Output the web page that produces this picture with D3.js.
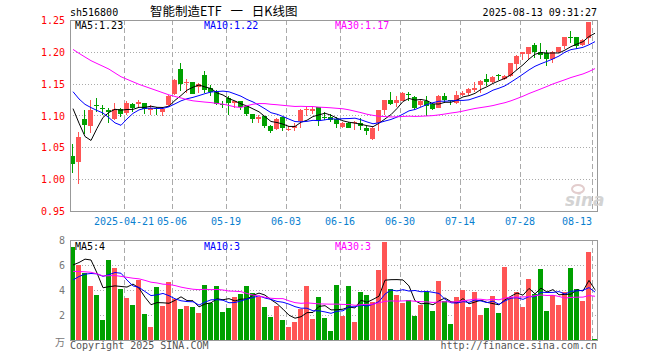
<!DOCTYPE html>
<html><head><meta charset="utf-8">
<script src="https://cdn.jsdelivr.net/npm/d3@7"></script>
<style>body{margin:0;background:#fff}svg{display:block}</style>
</head><body>
<svg id="c" width="660" height="360"></svg>
<script>
const dates = ["2025-04-08","2025-04-09","2025-04-10","2025-04-11","2025-04-14","2025-04-15","2025-04-16","2025-04-17","2025-04-18","2025-04-21","2025-04-22","2025-04-23","2025-04-24","2025-04-25","2025-04-28","2025-04-29","2025-04-30",
"2025-05-06","2025-05-07","2025-05-08","2025-05-09","2025-05-12","2025-05-13","2025-05-14","2025-05-15","2025-05-16","2025-05-19","2025-05-20","2025-05-21","2025-05-22","2025-05-23","2025-05-26","2025-05-27","2025-05-28","2025-05-29","2025-05-30",
"2025-06-03","2025-06-04","2025-06-05","2025-06-06","2025-06-09","2025-06-10","2025-06-11","2025-06-12","2025-06-13","2025-06-16","2025-06-17","2025-06-18","2025-06-19","2025-06-20","2025-06-23","2025-06-24","2025-06-25","2025-06-26","2025-06-27","2025-06-30",
"2025-07-01","2025-07-02","2025-07-03","2025-07-04","2025-07-07","2025-07-08","2025-07-09","2025-07-10","2025-07-11","2025-07-14","2025-07-15","2025-07-16","2025-07-17","2025-07-18","2025-07-21","2025-07-22","2025-07-23","2025-07-24","2025-07-25","2025-07-28","2025-07-29","2025-07-30","2025-07-31",
"2025-08-01","2025-08-04","2025-08-05","2025-08-06","2025-08-07","2025-08-08","2025-08-11","2025-08-12","2025-08-13"];
const open  = [1.036,1.027,1.095,1.084,1.117,1.111,1.109,1.094,1.110,1.104,1.118,1.118,1.120,1.109,1.112,1.106,1.117,1.134,1.173,1.151,1.152,1.144,1.164,1.143,1.139,1.118,1.127,1.120,1.123,1.115,1.102,1.095,1.099,1.084,1.079,1.097,1.077,1.081,1.091,1.108,1.107,1.113,1.098,1.098,1.094,1.082,1.089,1.088,1.089,1.081,1.063,1.088,1.109,1.124,1.119,1.123,1.133,1.129,1.117,1.123,1.118,1.111,1.131,1.124,1.120,1.132,1.135,1.140,1.148,1.158,1.152,1.163,1.158,1.162,1.181,1.197,1.197,1.210,1.200,1.198,1.188,1.200,1.209,1.223,1.223,1.211,1.221,1.250];
const high  = [1.055,1.074,1.108,1.124,1.128,1.117,1.112,1.119,1.111,1.122,1.120,1.124,1.120,1.117,1.114,1.114,1.132,1.157,1.183,1.157,1.153,1.151,1.170,1.148,1.140,1.122,1.130,1.123,1.123,1.115,1.102,1.101,1.099,1.085,1.096,1.097,1.084,1.089,1.110,1.114,1.114,1.114,1.106,1.102,1.097,1.090,1.090,1.092,1.096,1.084,1.082,1.109,1.124,1.137,1.131,1.137,1.137,1.130,1.124,1.131,1.120,1.132,1.136,1.125,1.139,1.139,1.143,1.153,1.155,1.165,1.162,1.165,1.164,1.183,1.195,1.200,1.208,1.214,1.214,1.203,1.201,1.208,1.224,1.232,1.223,1.220,1.247,1.250];
const low   = [1.009,0.993,1.071,1.073,1.106,1.101,1.089,1.093,1.097,1.101,1.106,1.111,1.102,1.101,1.101,1.099,1.115,1.132,1.139,1.136,1.133,1.136,1.135,1.130,1.117,1.111,1.101,1.111,1.108,1.099,1.089,1.089,1.080,1.072,1.077,1.075,1.075,1.076,1.081,1.099,1.103,1.084,1.093,1.090,1.080,1.080,1.080,1.078,1.077,1.069,1.062,1.075,1.101,1.117,1.114,1.122,1.123,1.108,1.114,1.099,1.108,1.111,1.119,1.117,1.118,1.130,1.132,1.137,1.136,1.146,1.151,1.156,1.156,1.161,1.171,1.187,1.188,1.190,1.188,1.178,1.182,1.198,1.204,1.214,1.204,1.209,1.213,1.248];
const close = [1.024,1.066,1.085,1.109,1.115,1.110,1.105,1.110,1.102,1.120,1.111,1.121,1.110,1.111,1.111,1.110,1.131,1.156,1.149,1.153,1.133,1.149,1.140,1.137,1.118,1.117,1.120,1.122,1.114,1.102,1.094,1.097,1.084,1.076,1.094,1.081,1.079,1.084,1.109,1.110,1.110,1.092,1.097,1.093,1.087,1.089,1.081,1.090,1.084,1.076,1.081,1.108,1.124,1.118,1.124,1.136,1.132,1.111,1.123,1.115,1.110,1.131,1.125,1.123,1.132,1.135,1.141,1.143,1.154,1.153,1.161,1.162,1.162,1.182,1.193,1.199,1.207,1.200,1.195,1.189,1.200,1.207,1.223,1.222,1.209,1.219,1.247,1.249];
const volume = [7.47,6.0,5.39,4.32,3.6,1.6,6.4,5.73,4.08,3.36,2.8,4.8,2.08,1.07,4.21,2.72,4.61,3.25,2.48,2.72,2.64,2.16,4.4,2.96,4.32,2.27,2.59,3.47,3.71,4.32,3.79,3.47,2.67,1.87,2.72,1.6,1.07,1.47,2.45,4.35,1.68,3.47,1.79,0.75,4.4,1.92,4.32,1.44,3.84,3.57,3.07,5.6,7.84,4.05,3.6,2.93,3.2,1.92,2.8,3.87,2.32,4.72,3.12,1.28,3.44,4.0,2.64,3.84,2.0,2.56,3.52,2.16,5.84,3.44,3.84,2.64,4.88,3.68,5.68,2.32,3.6,2.8,3.84,5.76,4.08,3.12,7.04,0.08];
// closes and volumes of the 29 sessions before the first visible one
const priorCloses = [1.25,1.26,1.28,1.25,1.24,1.24,1.29,1.28,1.24,1.23,1.24,1.21,1.21,1.21,1.21,1.23,1.23,1.22,1.23,1.19,1.18,1.17,1.16,1.16,1.15,1.18,1.19,1.14,1.02];
const priorVolumes = [6.5,6.0,5.5,7.2,6.8,5.9,5.2,6.1,5.6,5.0,6.3,5.8,5.4,6.0,5.7,5.3,5.9,6.2,5.5,4.9,3.2,3.5,3.8,3.9,3.6,5.0,4.04,4.67,8.82];
const priceTicks = [0.95,1.00,1.05,1.10,1.15,1.20,1.25];
const volTicks = [2,4,6,8];
const tickDates = ["2025-04-21","2025-05-06","2025-05-19","2025-06-03","2025-06-16","2025-06-30","2025-07-14","2025-07-28","2025-08-13"];
const tickLabels = ["2025-04-21","05-06","05-19","06-03","06-16","06-30","07-14","07-28","08-13"];
const maPeriods = [5,10,30];
const maColors = ["#000000","#0000ff","#ff00ff"];
const symbol = "sh516800";
const title = "智能制造ETF 一 日K线图";
const stamp = "2025-08-13 09:31:27";

const UP = "#ff5555", DOWN = "#00a000";
const L = 70, R = 598, PT = 20, PB = 211, VT = 240, VB = 340;
const svg = d3.select("#c");
const mono = "'DejaVu Sans Mono', monospace";

const x = d3.scaleBand().domain(d3.range(dates.length)).range([L, R]).padding(0);
const y = d3.scaleLinear().domain([0.95, 1.25]).range([PB, PT]);
const yv = d3.scaleLinear().domain([0, 8]).range([VB, VT]);
const cx = i => x(i) + 2.5;

function ma(series, prior, n) {
  const full = prior.concat(series), p = prior.length;
  return series.map((_, i) => d3.mean(full.slice(p + i - n + 1, p + i + 1)));
}
const priceMA = maPeriods.map(n => ma(close, priorCloses, n));
const volMA = maPeriods.map(n => ma(volume, priorVolumes, n));

const g = svg.append("g").attr("shape-rendering", "crispEdges");
// horizontal grids
g.selectAll(".hp").data(priceTicks.slice(1, -1)).join("line")
  .attr("x1", L).attr("x2", R - 1).attr("y1", d => Math.round(y(d)) + 0.5).attr("y2", d => Math.round(y(d)) + 0.5)
  .attr("stroke", "#aaaaaa").attr("stroke-dasharray", "1,2");
g.selectAll(".hv").data(volTicks.slice(0, -1)).join("line")
  .attr("x1", L).attr("x2", R - 1).attr("y1", d => Math.round(yv(d)) + 0.5).attr("y2", d => Math.round(yv(d)) + 0.5)
  .attr("stroke", "#aaaaaa").attr("stroke-dasharray", "1,2");
// vertical grids
const tickIdx = tickDates.map(d => dates.indexOf(d));
[[PT, PB], [VT, VB]].forEach(([a, b]) => {
  g.append("g").selectAll("line").data(tickIdx).join("line")
    .attr("x1", i => x(i) + 0.5).attr("x2", i => x(i) + 0.5).attr("y1", a).attr("y2", b)
    .attr("stroke", "#aaaaaa").attr("stroke-dasharray", "5,3");
});

// candles
const cg = g.append("g");
dates.forEach((d, i) => {
  const col = close[i] >= open[i] ? UP : DOWN;
  cg.append("line").attr("x1", cx(i)).attr("x2", cx(i)).attr("y1", y(high[i])).attr("y2", y(low[i])).attr("stroke", col);
  const top = y(Math.max(open[i], close[i])), bot = y(Math.min(open[i], close[i]));
  cg.append("rect").attr("x", x(i)).attr("width", 5).attr("y", top).attr("height", Math.max(1, bot - top)).attr("fill", col);
  cg.append("rect").attr("x", x(i)).attr("width", 5).attr("y", yv(volume[i])).attr("height", VB - yv(volume[i])).attr("fill", col);
});

// MA lines
const lp = d3.line().x((d, i) => cx(i) + 0.5);
maPeriods.forEach((n, k) => {
  svg.append("path").datum(priceMA[k]).attr("d", lp.y(d => y(d))).attr("fill", "none").attr("stroke", maColors[k]).attr("stroke-width", 1);
  svg.append("path").datum(volMA[k]).attr("d", lp.y(d => yv(d))).attr("fill", "none").attr("stroke", maColors[k]).attr("stroke-width", 1);
});

// frames
g.append("rect").attr("x", L + 0.5).attr("y", PT + 0.5).attr("width", R - L - 1).attr("height", PB - PT).attr("fill", "none").attr("stroke", "#999");
g.append("rect").attr("x", L + 0.5).attr("y", VT + 0.5).attr("width", R - L - 1).attr("height", VB - VT).attr("fill", "none").attr("stroke", "#999");

// watermark
const wm = svg.append("g").attr("opacity", 0.9);
wm.append("text").attr("x", 565).attr("y", 206).text("sina").attr("font-family", "'DejaVu Sans', sans-serif")
  .attr("font-size", 17).attr("font-weight", "bold").attr("font-style", "italic").attr("fill", "#cfcfcf");
wm.append("ellipse").attr("cx", 578).attr("cy", 189).attr("rx", 6).attr("ry", 4).attr("fill", "none").attr("stroke", "#e0c8c8").attr("stroke-width", 2);

// texts
const T = (xx, yy, s, col, anchor, size, fam) => svg.append("text").attr("x", xx).attr("y", yy).text(s)
  .attr("fill", col).attr("text-anchor", anchor || "start").attr("font-size", size || 10).attr("font-family", fam || mono);
T(L, 16, symbol, "#000");
T(150, 16, title, "#000", "start", 12.5, "'Noto Sans CJK SC', sans-serif")
  .attr("xml:space", "preserve").style("white-space", "pre").attr("word-spacing", 6);
T(597, 16, stamp, "#000", "end");
priceTicks.forEach(t => T(65, y(t) + 4, t.toFixed(2), "#ff0000", "end"));
volTicks.forEach(t => T(65, yv(t) + 4, String(t), "#777", "end"));
T(65, 346, "万", "#777", "end", 10, "'Noto Sans CJK SC', sans-serif");
tickIdx.forEach((i, k) => {
  const last = k === tickIdx.length - 1;
  T(x(i), 225, tickLabels[k], "#0a80cf", last ? "end" : "middle");
});
const legX = [75, 204, 335];
maPeriods.forEach((n, k) => {
  T(legX[k], 29, "MA" + n + ":" + priceMA[k][priceMA[k].length - 1].toFixed(2), maColors[k]);
  T(legX[k], 250, "MA" + n + ":" + Math.floor(volMA[k][volMA[k].length - 1]), maColors[k]);
});
T(L, 349, "Copyright 2025 SINA.COM", "#555");
T(597, 349, "http://finance.sina.com.cn", "#555", "end");
</script>
</body></html>
